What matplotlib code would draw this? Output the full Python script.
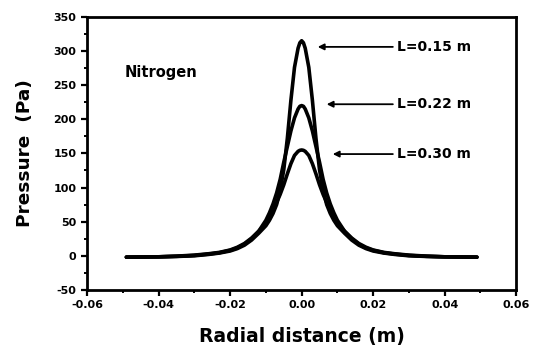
import matplotlib
matplotlib.use("Agg")
import matplotlib.pyplot as plt
import numpy as np

# radial positions (right half, m) - curves are symmetric about r = 0
r_half = [0.0, 0.0005, 0.001, 0.002, 0.003, 0.004, 0.005, 0.006, 0.007, 0.008,
          0.009, 0.010, 0.012, 0.014, 0.016, 0.018, 0.020, 0.023, 0.026,
          0.030, 0.035, 0.040, 0.049]

# pressure (Pa)
p_015 = [315, 312, 304, 276, 228, 172, 126, 96, 75, 62,
         52, 44, 33, 23, 15.5, 10.5, 7, 4, 2, 0, -1, -1.5, -2]
p_022 = [220, 219, 215, 202, 183, 160, 137, 112, 92, 76,
         63, 52, 36, 25, 17, 11.5, 8, 4.5, 2.5, 0.5, -0.8, -1.5, -2]
p_030 = [155, 154.5, 153, 147, 135, 120, 104, 90, 78, 67,
         57, 48, 36, 26, 18, 12.5, 8.5, 5, 3, 1, -0.5, -1.5, -2]

labels = ["L=0.15 m", "L=0.22 m", "L=0.30 m"]


def mirror(r, p):
    r = np.asarray(r)
    p = np.asarray(p, dtype=float)
    return np.concatenate([-r[:0:-1], r]), np.concatenate([p[:0:-1], p])


plt.rcParams["font.family"] = ["DejaVu Sans"]
plt.rcParams["font.weight"] = "bold"
plt.rcParams["axes.unicode_minus"] = False

fig = plt.figure(figsize=(5.44, 3.51), dpi=100)
ax = fig.add_axes([0.16, 0.174, 0.789, 0.778])

for p in (p_015, p_022, p_030):
    x, y = mirror(r_half, p)
    ax.plot(x, y, color="black", lw=2.6, solid_joinstyle="round",
            solid_capstyle="round")

# arrows + labels
arrow_tips = [(0.0045, 306), (0.007, 222), (0.0087, 149)]
for (tx, ty), lab in zip(arrow_tips, labels):
    ax.annotate("", xy=(tx, ty), xytext=(0.0255, ty),
                arrowprops=dict(arrowstyle="-|>", color="black", lw=1.3,
                                mutation_scale=9, shrinkA=0, shrinkB=0))
    ax.text(0.0266, ty, lab, fontsize=10, fontweight="bold",
            va="center", ha="left")

ax.text(-0.0494, 269, "Nitrogen", fontsize=10.5, fontweight="bold",
        va="center", ha="left")

ax.set_xlim(-0.06, 0.06)
ax.set_ylim(-50, 350)
ax.set_xticks(np.arange(-0.06, 0.061, 0.02))
ax.set_xticks(np.arange(-0.05, 0.06, 0.02), minor=True)
ax.set_yticks(np.arange(-50, 351, 50))
ax.set_yticks(np.arange(-25, 350, 50), minor=True)
ax.set_xticklabels(["-0.06", "-0.04", "-0.02", "0.00", "0.02", "0.04", "0.06"])
ax.tick_params(which="major", length=4, width=1.6, labelsize=8, direction="out")
ax.tick_params(which="minor", length=2.5, width=1.4, direction="out")
ax.tick_params(top=False, right=False, which="both")
for lab in ax.get_xticklabels() + ax.get_yticklabels():
    lab.set_fontweight("bold")
for s in ax.spines.values():
    s.set_linewidth(2)

ax.set_xlabel("Radial distance (m)", fontsize=13.5, fontweight="bold", labelpad=12)
ax.set_ylabel("Pressure  (Pa)", fontsize=13.3, fontweight="bold", labelpad=14)

fig.savefig("out.png", dpi=100)
